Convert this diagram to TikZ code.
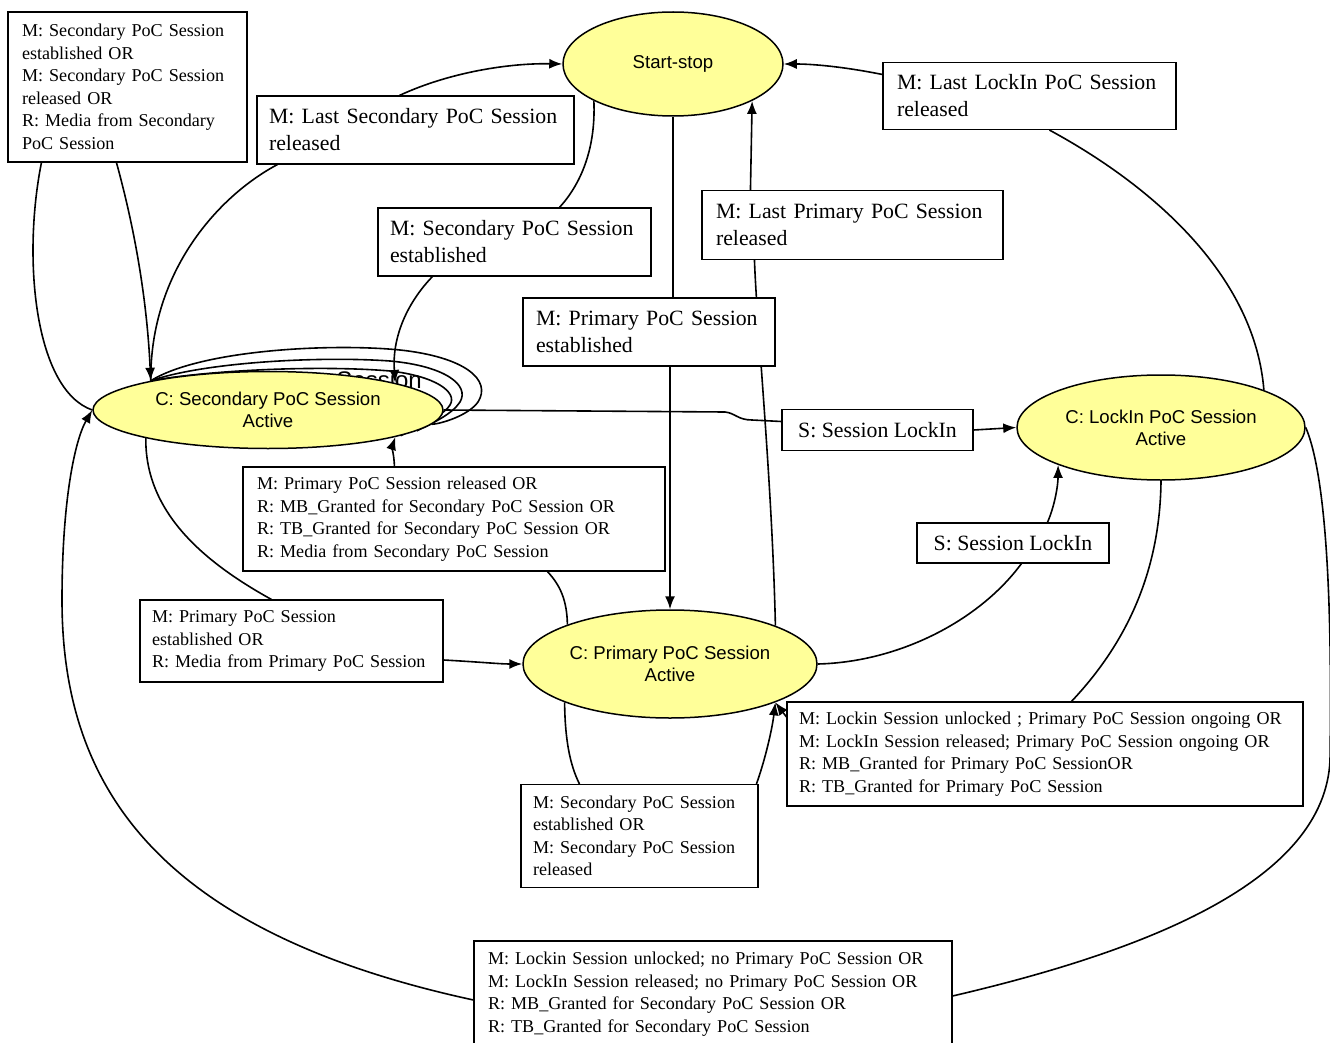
\documentclass[tikz,border=0pt]{standalone}
\usepackage{fontspec}
\setmainfont{Liberation Serif}
\newfontfamily\arialf{Liberation Sans}
\usetikzlibrary{arrows.meta,shapes.geometric}
\definecolor{stateyellow}{HTML}{FFFF99}
\pgfdeclarelayer{bg}
\pgfsetlayers{bg,main}
\begin{document}
\begin{tikzpicture}[x=1pt,y=-1pt,
  state/.style={ellipse, draw, line width=1.5pt, fill=stateyellow, inner sep=0pt, font=\arialf\fontsize{18.6}{22}\selectfont, align=center},
  lbox/.style={draw, fill=white, line width=1.1pt, inner ysep=0pt, align=left, execute at begin node={\hyphenpenalty=10000\exhyphenpenalty=10000}},
  big/.style={font=\fontsize{21.8}{27}\selectfont},
  small/.style={font=\fontsize{18.1}{22.5}\selectfont},
  conn/.style={line width=1.6pt},
  arr/.style={conn, -{Latex[length=13pt,width=10pt]}},
]
\useasboundingbox (0,0) rectangle (1330,1043);

% states
\node[state, minimum width=220, minimum height=104] (SS) at (673,64) {Start-stop};
\node[state, minimum width=350, minimum height=77] (SE) at (268,410) {C: Secondary PoC Session\\Active};
\node[state, minimum width=288, minimum height=105] (LK) at (1161,427.5) {C: LockIn PoC Session\\Active};
\node[state, minimum width=294, minimum height=108] (PR) at (670,664) {C: Primary PoC Session\\Active};

% label boxes
\node[lbox, small, minimum width=239, minimum height=150, text width=211, inner xsep=14] (A) at (127.5,87)
  {M: Secondary PoC Session\\established OR\\M: Secondary PoC Session\\released OR\\R: Media from Secondary\\PoC Session};
\node[lbox, big, minimum width=317, minimum height=68, text width=293, inner xsep=12] (B) at (415.5,130)
  {M: Last Secondary PoC Session\\released};
\node[lbox, big, minimum width=273, minimum height=68, text width=249, inner xsep=12] (C) at (514.5,242)
  {M: Secondary PoC Session\\established};
\node[lbox, big, minimum width=252, minimum height=68, text width=226, inner xsep=13] (D) at (649,332)
  {M: Primary PoC Session\\established};
\node[lbox, big, minimum width=301, minimum height=69, text width=273, inner xsep=14] (E) at (852.5,225)
  {M: Last Primary PoC Session\\released};
\node[lbox, big, minimum width=293, minimum height=67, text width=265, inner xsep=14] (F) at (1029.5,96)
  {M: Last LockIn PoC Session\\released};
\node[lbox, big, minimum width=191, minimum height=41] (G) at (877.5,430) {S: Session LockIn};
\node[lbox, big, minimum width=192, minimum height=40] (H) at (1013,543) {S: Session LockIn};
\node[lbox, small, minimum width=422, minimum height=104, text width=394, inner xsep=14] (I) at (454,519)
  {M: Primary PoC Session released OR\\R: MB\_Granted for Secondary PoC Session OR\\R: TB\_Granted for Secondary PoC Session OR\\R: Media from Secondary PoC Session};
\node[lbox, small, minimum width=303, minimum height=82, text width=279, inner xsep=12] (J) at (291.5,641)
  {M: Primary PoC Session\\established OR\\R: Media from Primary PoC Session};
\node[lbox, small, minimum width=237, minimum height=103, text width=213, inner xsep=12] (K) at (639.5,836)
  {M: Secondary PoC Session\\established OR\\M: Secondary PoC Session\\released};
\node[lbox, small, minimum width=516, minimum height=104, text width=492, inner xsep=12] (L) at (1045,754)
  {M: Lockin Session unlocked ; Primary PoC Session ongoing OR\\M: LockIn Session released; Primary PoC Session ongoing OR\\R: MB\_Granted for Primary PoC SessionOR\\R: TB\_Granted for Primary PoC Session};
\node[lbox, small, minimum width=478, minimum height=106, text width=450, inner xsep=14] (M) at (713,994)
  {M: Lockin Session unlocked; no Primary PoC Session OR\\M: LockIn Session released; no Primary PoC Session OR\\R: MB\_Granted for Secondary PoC Session OR\\R: TB\_Granted for Secondary PoC Session};

\begin{pgfonlayer}{bg}
\node[font=\arialf\fontsize{24}{28}\selectfont, anchor=base east, inner sep=0pt] (hid) at (422,388) {Session};

% self loops on secondary
\draw[conn] (SE.166) .. controls (200,350) and (330,343) .. (400,350)
  .. controls (465,357) and (492,380) .. (478,402) .. controls (468,416) and (440,424) .. (SE.-5);
\draw[conn] (SE.166) .. controls (205,362) and (320,356) .. (390,361)
  .. controls (445,366) and (470,385) .. (460,402) .. controls (452,414) and (435,422) .. (SE.-8);
\draw[conn] (SE.166) .. controls (210,370) and (320,365) .. (390,371)
  .. controls (435,376) and (458,392) .. (450,405) .. controls (445,413) and (432,420) .. (SE.-11);

% 1 SE -> SS via B
\draw[conn] (SE.166) .. controls (150,270) and (220,195) .. ([xshift=21]B.south west);
\draw[arr] ([xshift=143]B.north west) .. controls (450,72) and (510,63) .. (SS.west);
% 2 SS -> SE via C
\draw[conn] (SS.205.7) .. controls (596,150) and (580,185) .. ([xshift=182]C.north west);
\draw[arr] ([xshift=55]C.south west) .. controls (405,305) and (392,340) .. (SE.12.7);
% 3 SS -> PR via D
\draw[conn] (SS.south) -- (SS.south |- D.north);
\draw[arr] (D.south -| PR.north) -- (PR.north);
% 4 PR -> SS via E
\draw[conn] (PR.20.9) .. controls (772,480) and (757,330) .. ([xshift=53]E.south west);
\draw[arr] ([xshift=49]E.north west) -- (SS.-25.2);
% 5 LK -> SS via F
\draw[conn] (LK.20.4) .. controls (1255,280) and (1160,190) .. ([xshift=167]F.south west);
\draw[arr] ([yshift=21.5]F.west) .. controls (840,66) and (810,64) .. (SS.east);
% 6 SE -> LK via G
\draw[conn] (SE.east) -- (725,412) .. controls (735,413) and (738,420) .. (752,420) -- ([yshift=8.5]G.west);
\draw[arr] (G.east) -- (LK.west);
% 7 PR -> LK via H
\draw[conn] (PR.east) .. controls (900,662) and (980,620) .. ([xshift=105]H.south west);
\draw[arr] ([xshift=131]H.north west) .. controls (1055,505) and (1058,485) .. (LK.200.3);
% 8 LK -> PR via L
\draw[conn] (LK.south) .. controls (1160,580) and (1120,650) .. ([xshift=285]L.north west);
\draw[arr] ([yshift=37]L.west) -- (PR.-20.9);
% 9 LK -> SE via M
\draw[conn] (LK.east) .. controls (1328,480) and (1332,620) .. (1330,760)
  .. controls (1325,880) and (1150,950) .. ([yshift=-2]M.east);
\draw[arr] ([yshift=-6]M.west) .. controls (150,930) and (62,780) .. (62,600)
  .. controls (62,500) and (75,440) .. (SE.west);
% 10 SE -> PR via J
\draw[conn] (SE.193.3) .. controls (145,510) and (200,560) .. ([xshift=132]J.north west);
\draw[arr] ([yshift=-19]J.east) .. controls (480,662) and (500,664) .. (PR.west);
% 11 PR -> SE via I
\draw[conn] (PR.159.5) .. controls (567,600) and (560,585) .. ([xshift=305]I.south west);
\draw[arr] ([xshift=152]I.north west) .. controls (394,455) and (392,447) .. (SE.-12.7);
% 12 SE self via A
\draw[conn] ([xshift=34]A.south west) .. controls (22,260) and (35,390) .. (SE.west);
\draw[arr] ([xshift=109]A.south west) .. controls (135,230) and (147,300) .. (SE.166);
% 13 PR self via K
\draw[conn] (PR.200.5) .. controls (565,740) and (570,765) .. ([xshift=59]K.north west);
\draw[arr] ([xshift=236]K.north west) .. controls (765,760) and (772,730) .. (PR.-20.9);
\end{pgfonlayer}
\end{tikzpicture}
\end{document}
